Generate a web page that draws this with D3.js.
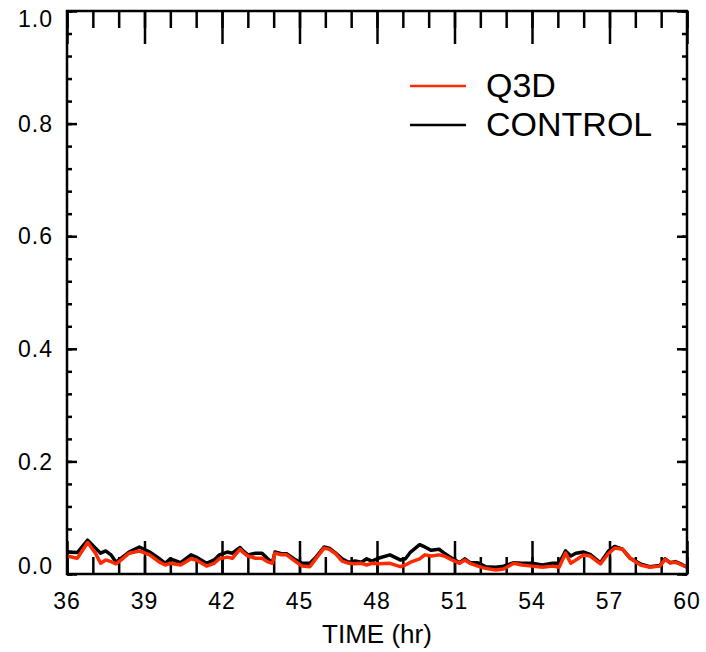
<!DOCTYPE html>
<html>
<head>
<meta charset="utf-8">
<script src="https://cdn.jsdelivr.net/npm/d3@7"></script>
<style>
  body { margin: 0; background: #fff; }
  svg text { font-family: "Liberation Sans", Arial, sans-serif; fill: #000; }
</style>
</head>
<body>
<svg id="chart"></svg>
<script>
// values
const times = [36.0, 36.4, 36.8, 37.1, 37.3, 37.5, 37.7, 37.9, 38.1, 38.4, 38.8, 39.2, 39.55, 39.8,
    40.0, 40.4, 40.8, 41.0, 41.4, 41.7, 41.9, 42.2, 42.4, 42.7, 42.8, 43.0, 43.3, 43.55, 43.75, 43.95,
    44.05, 44.3, 44.5, 44.85, 45.1, 45.4, 45.6, 45.95, 46.15, 46.4, 46.65, 46.9, 47.15, 47.4, 47.6, 47.8,
    48.05, 48.5, 48.9, 49.1, 49.3, 49.65, 49.85, 50.1, 50.4, 50.6, 50.9, 51.2, 51.4, 51.6, 51.9,
    52.2, 52.6, 52.9, 53.3, 53.6, 54.0, 54.4, 54.8, 55.05, 55.3, 55.5, 55.7, 56.0, 56.25, 56.65,
    56.95, 57.2, 57.5, 57.8, 58.2, 58.55, 58.95, 59.15, 59.35, 59.55, 59.8, 60.0];
const control = [0.039, 0.038, 0.060, 0.046, 0.037, 0.041, 0.034, 0.021, 0.028, 0.039, 0.048, 0.039, 0.028, 0.019,
    0.027, 0.020, 0.034, 0.030, 0.019, 0.025, 0.034, 0.039, 0.037, 0.047, 0.042, 0.034, 0.037, 0.037, 0.028, 0.020,
    0.039, 0.036, 0.036, 0.025, 0.019, 0.019, 0.028, 0.048, 0.046, 0.037, 0.027, 0.021, 0.023, 0.021, 0.027, 0.023,
    0.028, 0.034, 0.025, 0.027, 0.039, 0.052, 0.048, 0.042, 0.044, 0.037, 0.028, 0.020, 0.027, 0.020, 0.020,
    0.013, 0.012, 0.014, 0.020, 0.019, 0.019, 0.016, 0.019, 0.019, 0.041, 0.032, 0.037, 0.039, 0.035, 0.020,
    0.040, 0.049, 0.044, 0.028, 0.018, 0.013, 0.015, 0.027, 0.020, 0.022, 0.017, 0.012];
const q3d = [0.032, 0.028, 0.056, 0.037, 0.019, 0.025, 0.022, 0.018, 0.025, 0.037, 0.041, 0.034, 0.022, 0.016,
    0.019, 0.016, 0.027, 0.025, 0.014, 0.019, 0.027, 0.030, 0.028, 0.044, 0.039, 0.032, 0.028, 0.028, 0.022, 0.019,
    0.037, 0.034, 0.034, 0.022, 0.014, 0.013, 0.025, 0.046, 0.044, 0.036, 0.023, 0.019, 0.018, 0.019, 0.016, 0.019,
    0.018, 0.019, 0.013, 0.016, 0.021, 0.027, 0.034, 0.032, 0.034, 0.032, 0.025, 0.019, 0.025, 0.019, 0.014,
    0.010, 0.007, 0.009, 0.019, 0.016, 0.014, 0.012, 0.014, 0.012, 0.037, 0.019, 0.025, 0.034, 0.032, 0.018,
    0.036, 0.046, 0.044, 0.028, 0.016, 0.012, 0.014, 0.026, 0.020, 0.021, 0.016, 0.012];

const xMajor = [36, 39, 42, 45, 48, 51, 54, 57, 60];
const xMinor = d3.range(36, 61, 1);
const yMajor = [0.0, 0.2, 0.4, 0.6, 0.8, 1.0];
const yMinor = d3.range(0, 1.001, 0.04);

const seriesNames = ['Q3D', 'CONTROL'];
const seriesColors = ['#ff2a00', '#000000'];

const width = 706;
const height = 652;
const margin = {top: 11, right: 19, bottom: 78, left: 67};
const plotW = width - margin.left - margin.right;
const plotH = height - margin.top - margin.bottom;

const svg = d3.select('svg#chart')
    .attr('width', width)
    .attr('height', height);

const x = d3.scaleLinear().domain([36, 60]).range([0, plotW]);
const y = d3.scaleLinear().domain([0, 1]).range([plotH, 0]);

const g = svg.append('g').attr('transform', `translate(${margin.left},${margin.top})`);

// inward ticks on all four sides
function styleAxis(sel) {
    sel.select('.domain').remove();
    sel.selectAll('.tick line').attr('stroke', '#000').attr('stroke-width', 2.5);
    sel.selectAll('.tick text').remove();
}

g.append('g').attr('transform', `translate(0,${plotH})`)
    .call(d3.axisBottom(x).tickValues(xMinor).tickSize(-17)).call(styleAxis);
g.append('g').attr('transform', `translate(0,${plotH})`)
    .call(d3.axisBottom(x).tickValues(xMajor).tickSize(-33)).call(styleAxis);
g.append('g')
    .call(d3.axisTop(x).tickValues(xMinor).tickSize(-17)).call(styleAxis);
g.append('g')
    .call(d3.axisTop(x).tickValues(xMajor).tickSize(-33)).call(styleAxis);

g.append('g')
    .call(d3.axisLeft(y).tickValues(yMinor).tickSize(-5)).call(styleAxis);
g.append('g')
    .call(d3.axisLeft(y).tickValues(yMajor).tickSize(-10)).call(styleAxis);
g.append('g').attr('transform', `translate(${plotW},0)`)
    .call(d3.axisRight(y).tickValues(yMinor).tickSize(-5)).call(styleAxis);
g.append('g').attr('transform', `translate(${plotW},0)`)
    .call(d3.axisRight(y).tickValues(yMajor).tickSize(-10)).call(styleAxis);

// tick labels
g.selectAll('text.xlab')
    .data(xMajor)
    .join('text')
    .attr('class', 'xlab')
    .attr('x', d => x(d))
    .attr('y', plotH + 35)
    .attr('text-anchor', 'middle')
    .style('font-size', '23px')
    .style('letter-spacing', '1px')
    .text(d => d);

g.selectAll('text.ylab')
    .data(yMajor)
    .join('text')
    .attr('class', 'ylab')
    .attr('x', -14)
    .attr('y', d => Math.min(Math.max(y(d), 8), plotH - 8))
    .attr('dy', '0.36em')
    .attr('text-anchor', 'end')
    .style('font-size', '23px')
    .style('letter-spacing', '1px')
    .text(d => d.toFixed(1));

g.append('text')
    .attr('x', plotW / 2)
    .attr('y', plotH + 69)
    .attr('text-anchor', 'middle')
    .style('font-size', '26px')
    .text('TIME (hr)');

// lines
const line = vals => d3.line()
    .x((d, i) => x(times[i]))
    .y(d => y(d))(vals);

g.append('path')
    .attr('d', line(control))
    .attr('fill', 'none')
    .attr('stroke', seriesColors[1])
    .attr('stroke-width', 3.5)
    .attr('stroke-linejoin', 'round');

g.append('path')
    .attr('d', line(q3d))
    .attr('fill', 'none')
    .attr('stroke', seriesColors[0])
    .attr('stroke-width', 3.5)
    .attr('stroke-linejoin', 'round');

// frame
g.append('rect')
    .attr('width', plotW)
    .attr('height', plotH)
    .attr('fill', 'none')
    .attr('stroke', '#000')
    .attr('stroke-width', 2.5);

// legend
const legend = g.append('g').attr('transform', `translate(${410 - margin.left},${86 - margin.top})`);
seriesNames.forEach((name, i) => {
    const row = legend.append('g').attr('transform', `translate(0,${i * 39})`);
    row.append('line')
        .attr('x1', 0).attr('x2', 56)
        .attr('stroke', seriesColors[i])
        .attr('stroke-width', 2.5);
    row.append('text')
        .attr('x', 76)
        .attr('y', 11)
        .style('font-size', '34px')
        .text(name);
});
</script>
</body>
</html>
